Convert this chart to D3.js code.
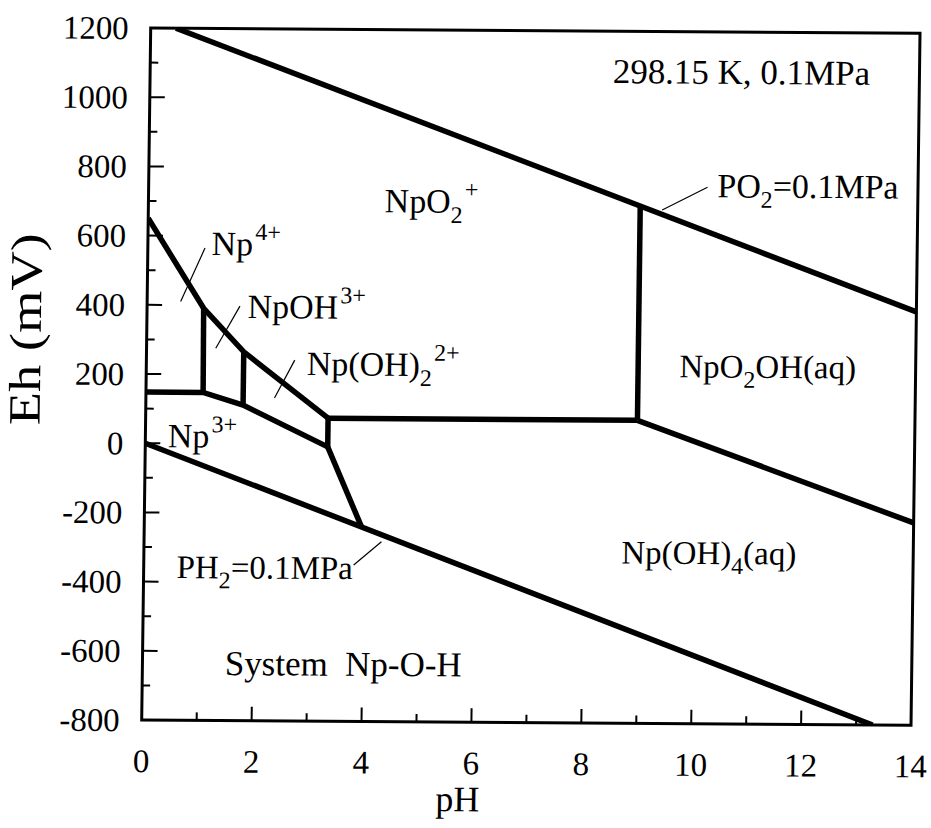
<!DOCTYPE html>
<html>
<head>
<meta charset="utf-8">
<script src="https://cdn.jsdelivr.net/npm/d3@7"></script>
<style>
  html, body { margin: 0; padding: 0; background: #fff; }
  svg { display: block; font-family: "Liberation Serif", "Times New Roman", serif; }
</style>
</head>
<body>
<svg id="chart" width="931" height="828"></svg>
<script>
// Axis ticks
const pHMajor = [0, 2, 4, 6, 8, 10, 12, 14];
const pHMinor = [1, 3, 5, 7, 9, 11, 13];
const ehMajor = [-800, -600, -400, -200, 0, 200, 400, 600, 800, 1000, 1200];
const ehMinor = [-700, -500, -300, -100, 100, 300, 500, 700, 900, 1100];
const ehTickLabels = ["-800", "-600", "-400", "-200", "0", "200", "400", "600", "800", "1000", "1200"];

// Stability boundaries, [pH, Eh (mV)]
const o2Line = [[0.46, 1200], [14, 395]];                 // PO2 = 0.1 MPa
const h2Line = [[0, 0], [13.3, -800]];                    // PH2 = 0.1 MPa
const np4Upper = [[0, 650], [1.03, 391], [1.77, 266], [3.32, 76]];
const np3Upper = [[0, 148], [1.04, 148], [1.77, 112], [3.32, -7]];
const npOH3Left = [[1.03, 391], [1.04, 148]];
const npOH22Left = [[1.77, 266], [1.77, 112]];
const npOH22Right = [[3.32, 76], [3.32, -7]];
const np3Right = [[3.32, -7], [3.95, -236]];
const npO2Lower = [[3.32, 76], [8.95, 76]];
const npO2OHLeft = [[8.95, 76], [8.95, 696]];
const npO2OHLower = [[8.95, 76], [14, -215]];

const boundaries = [o2Line, h2Line, np4Upper, np3Upper, npOH3Left, npOH22Left,
  npOH22Right, np3Right, npO2Lower, npO2OHLeft, npO2OHLower];

// Leader lines from labels to their fields
const leaders = [
  [[1.04, 565], [0.61, 410]],
  [[1.69, 398], [1.26, 276]],
  [[2.70, 243], [2.34, 133]],
  [[10.17, 751], [9.35, 684]],
  [[3.82, -348], [4.32, -280]]
];

// Field and condition labels: text parts ([text, "n"|"sub"|"sup"]), anchor [pH, Eh], size
const labels = [
  { parts: [["298.15 K, 0.1MPa", "n"]], at: [8.42, 1050], size: 35 },
  { parts: [["NpO", "n"], ["2", "sub"], ["+", "sup"]], at: [4.30, 672], size: 34 },
  { parts: [["Np", "n"], ["4+", "sup"]], at: [1.16, 545], size: 34 },
  { parts: [["NpOH", "n"], ["3+", "sup"]], at: [1.83, 364], size: 34 },
  { parts: [["Np(OH)", "n"], ["2", "sub"], ["2+", "sup"]], at: [2.92, 200], size: 34 },
  { parts: [["Np", "n"], ["3+", "sup"]], at: [0.41, -11], size: 34 },
  { parts: [["NpO", "n"], ["2", "sub"], ["OH(aq)", "n"]], at: [9.70, 201], size: 33 },
  { parts: [["Np(OH)", "n"], ["4", "sub"], ["(aq)", "n"]], at: [8.69, -338], size: 33 },
  { parts: [["PO", "n"], ["2", "sub"], ["=0.1MPa", "n"]], at: [10.35, 722], size: 34 },
  { parts: [["PH", "n"], ["2", "sub"], ["=0.1MPa", "n"]], at: [0.60, -389], size: 33 },
  { parts: [["System\u00a0\u00a0Np-O-H", "n"]], at: [1.50, -668], size: 35 }
];

const W = 770, H = 692;
const svg = d3.select("#chart");
// Plot frame placed on the page (slightly sheared like a scanned sheet)
const g = svg.append("g").attr("transform", "matrix(0.9991,0.0069,-0.013,1,150.7,28)");

const x = d3.scaleLinear().domain([0, 14]).range([0, W]);
const y = d3.scaleLinear().domain([-800, 1200]).range([H, 0]);

// Inward ticks
const tickG = g.append("g").attr("stroke", "#000").attr("stroke-width", 2);
tickG.selectAll(".xmaj").data(pHMajor.slice(1, -1)).join("line")
  .attr("x1", d => x(d)).attr("x2", d => x(d)).attr("y1", H).attr("y2", H - 14);
tickG.selectAll(".xmin").data(pHMinor).join("line")
  .attr("x1", d => x(d)).attr("x2", d => x(d)).attr("y1", H).attr("y2", H - 8);
tickG.selectAll(".ymaj").data(ehMajor.slice(1, -1)).join("line")
  .attr("x1", 0).attr("x2", 15).attr("y1", d => y(d)).attr("y2", d => y(d));
tickG.selectAll(".ymin").data(ehMinor).join("line")
  .attr("x1", 0).attr("x2", 8).attr("y1", d => y(d)).attr("y2", d => y(d));

// Frame
g.append("rect").attr("x", 0).attr("y", 0).attr("width", W).attr("height", H)
  .attr("fill", "none").attr("stroke", "#000").attr("stroke-width", 3);

// Tick labels
g.selectAll(".ylab").data(ehMajor).join("text")
  .attr("x", -22).attr("y", d => y(d)).attr("dy", "0.34em")
  .attr("text-anchor", "end").attr("font-size", 33)
  .text((d, i) => ehTickLabels[i]);
g.selectAll(".xlab").data(pHMajor).join("text")
  .attr("x", d => x(d)).attr("y", H + 52)
  .attr("text-anchor", "middle").attr("font-size", 33)
  .text(d => d);

// Axis titles
g.append("text").attr("transform", `translate(-106,${302}) rotate(-90)`)
  .attr("text-anchor", "middle").attr("font-size", 45)
  .attr("textLength", 192).attr("lengthAdjust", "spacingAndGlyphs")
  .text("Eh (mV)");
g.append("text").attr("x", 317).attr("y", 781)
  .attr("text-anchor", "middle").attr("font-size", 36).text("pH");

// Boundaries
const line = d3.line().x(d => x(d[0])).y(d => y(d[1]));
const clip = g.append("clipPath").attr("id", "plotclip");
clip.append("rect").attr("x", 0).attr("y", 0).attr("width", W).attr("height", H);
g.append("g").attr("clip-path", "url(#plotclip)")
  .selectAll("path").data(boundaries).join("path")
  .attr("d", line).attr("fill", "none").attr("stroke", "#000")
  .attr("stroke-width", 5.5).attr("stroke-linejoin", "miter").attr("stroke-linecap", "butt");

// Leaders
g.selectAll(".leader").data(leaders).join("path")
  .attr("d", line).attr("fill", "none").attr("stroke", "#000").attr("stroke-width", 1.2);

// Labels with sub/superscripts
const shift = { n: 0, sub: 0.3, sup: -0.45 };
labels.forEach(l => {
  const t = g.append("text").attr("x", x(l.at[0])).attr("y", y(l.at[1]))
    .attr("font-size", l.size);
  let cur = 0;
  l.parts.forEach(([txt, kind]) => {
    const target = shift[kind] * l.size;
    t.append("tspan")
      .attr("dy", target - cur)
      .attr("dx", kind === "sup" ? 2 : 0)
      .attr("font-size", kind === "n" ? l.size : Math.round(l.size * 0.72))
      .text(txt);
    cur = target;
  });
});
</script>
</body>
</html>
